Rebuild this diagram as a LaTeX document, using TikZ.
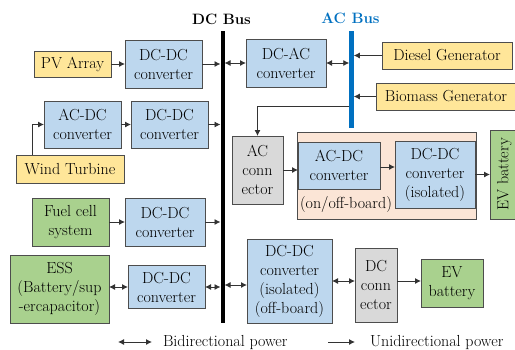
\documentclass[tikz,border=0pt]{standalone}
\usetikzlibrary{arrows.meta}
\definecolor{bluefill}{HTML}{BDD7EE}
\definecolor{yellowfill}{HTML}{FFE699}
\definecolor{greenfill}{HTML}{A9D18E}
\definecolor{grayfill}{HTML}{D9D9D9}
\definecolor{peachfill}{HTML}{FBE5D6}
\definecolor{boxline}{HTML}{4D4D4D}
\definecolor{wire}{HTML}{333333}
\definecolor{acblue}{HTML}{0070C0}
\begin{document}
\begin{tikzpicture}[x=1pt,y=-1pt,
  every node/.style={inner sep=0pt, outer sep=0pt, align=center,
    font=\fontsize{16}{19}\selectfont},
  box/.style={draw=boxline, line width=0.8pt, rectangle},
  bluebox/.style={box, fill=bluefill},
  yellowbox/.style={box, fill=yellowfill},
  greenbox/.style={box, fill=greenfill},
  graybox/.style={box, fill=grayfill},
  peachbox/.style={box, fill=peachfill},
  sz/.style 2 args={minimum width=#1pt, minimum height=#2pt},
  uni/.style={draw=wire, line width=0.9pt, -{Latex[length=6pt,width=6pt]}},
  bi/.style={draw=wire, line width=0.9pt, {Latex[length=6pt,width=6pt]}-{Latex[length=6pt,width=6pt]}},
  buslabel/.style={font=\fontsize{15}{18}\selectfont\bfseries, anchor=base}
]
\useasboundingbox (0,0) rectangle (515,349);

% buses
\node[fill=black, sz={4}{292}] (dcbus) at (222.5,177) {};
\node[fill=acblue, sz={4.5}{97}] (acbus) at (351.5,79.5) {};
\node[buslabel] (dclabel) at (221.5,24) {DC Bus};
\node[buslabel, text=acblue] (aclabel) at (350.5,23) {AC Bus};

% left side
\node[yellowbox, sz={77}{26}] (pv) at (72.5,64) {PV Array};
\node[bluebox, sz={77}{48}] (dcdc1) at (163.5,64) {DC-DC\\converter};
\node[bluebox, sz={77}{47}] (acdc1) at (82.5,124.5) {AC-DC\\converter};
\node[bluebox, sz={77}{47}] (dcdc2) at (169.5,124.5) {DC-DC\\converter};
\node[yellowbox, sz={108}{28}] (wind) at (70,169) {Wind Turbine};
\node[greenbox, sz={77}{48}] (fuel) at (70.5,222) {Fuel cell\\system};
\node[bluebox, sz={80}{48}] (dcdc3) at (165,222) {DC-DC\\converter};
\node[greenbox, sz={99}{68}] (ess) at (59.5,289) {ESS\\(Battery/sup\\-ercapacitor)};
\node[bluebox, sz={77}{43}] (dcdc4) at (166.5,287) {DC-DC\\converter};

% right side
\node[bluebox, sz={80}{48}] (dcac) at (286,63) {DC-AC\\converter};
\node[yellowbox, sz={130}{27}] (diesel) at (447,55.5) {Diesel Generator};
\node[yellowbox, sz={140}{27}] (biomass) at (446,96.5) {Biomass Generator};
\node[graybox, sz={51}{68}] (acconn) at (257.5,170) {AC\\conn\\ector};
\node[peachbox, sz={179}{87}] (peach) at (386.5,175.5) {};
\node[bluebox, sz={82}{47}] (acdc2) at (339,165.5) {AC-DC\\converter};
\node[bluebox, sz={80}{67}] (dcdciso) at (435,174.5) {DC-DC\\converter\\(isolated)};
\node (onoff) at (346,205) {(on/off-board)};
\node[greenbox, sz={27}{89}, anchor=west] (evbat1) at (490,174.5) {};
\node[rotate=90] (evtext1) at (504.5,174.5) {EV battery};
\node[bluebox, sz={85}{84}] (dcdcoff) at (289.5,281) {DC-DC\\converter\\(isolated)\\(off-board)};
\node[graybox, sz={42}{74}] (dcconn) at (376,285) {DC\\conn\\ector};
\node[greenbox, sz={62}{48}] (evbat2) at (452,283) {EV\\battery};

% connectors left
\draw[uni] (pv) -- (dcdc1);
\draw[uni] (dcdc1) -- (dcdc1 -| dcbus.west);
\draw[uni] ([xshift=16pt]wind.north west) |- (acdc1.west);
\draw[uni] (acdc1) -- (dcdc2);
\draw[uni] (dcdc2) -- (dcdc2 -| dcbus.west);
\draw[uni] (fuel) -- (dcdc3);
\draw[uni] (dcdc3) -- (dcdc3 -| dcbus.west);
\draw[bi] (ess.east |- dcdc4) -- (dcdc4.west);
\draw[bi] (dcdc4) -- (dcdc4 -| dcbus.west);

% connectors right
\draw[bi] (dcbus.east |- dcac) -- (dcac.west);
\draw[bi] (dcac.east) -- (dcac -| acbus.west);
\draw[uni] (diesel.west) -- (diesel -| acbus.east);
\draw[uni] (biomass.west) -- (biomass -| acbus.east);
\draw[uni] ([yshift=22pt]acbus.south west) -| (acconn.north);
\draw[uni] (acconn.east) -- (acconn -| acdc2.west);
\draw[uni] ([yshift=-1.5pt]acdc2.east) -- ([yshift=-1.5pt]acdc2.east -| dcdciso.west);
\draw[uni] (dcdciso.east) -- (dcdciso -| evbat1.west);
\draw[bi] ([yshift=-4pt]dcdcoff.west -| dcbus.east) -- ([yshift=-4pt]dcdcoff.west);
\draw[bi] (dcdcoff.east) -- (dcdcoff -| dcconn.west);
\draw[uni] (dcconn.east |- dcdcoff) -- (dcdcoff -| evbat2.west);

% legend
\node[anchor=base west] (bitext) at (163,346) {Bidirectional power};
\node[anchor=base west] (unitext) at (370,346) {Unidirectional power};
\coordinate (bistart) at (118,342);
\coordinate (bistop) at (152,342);
\coordinate (unistart) at (328,342);
\coordinate (unistop) at (355,342);
\draw[bi] (bistart) -- (bistop);
\draw[uni] (unistart) -- (unistop);
\end{tikzpicture}
\end{document}
